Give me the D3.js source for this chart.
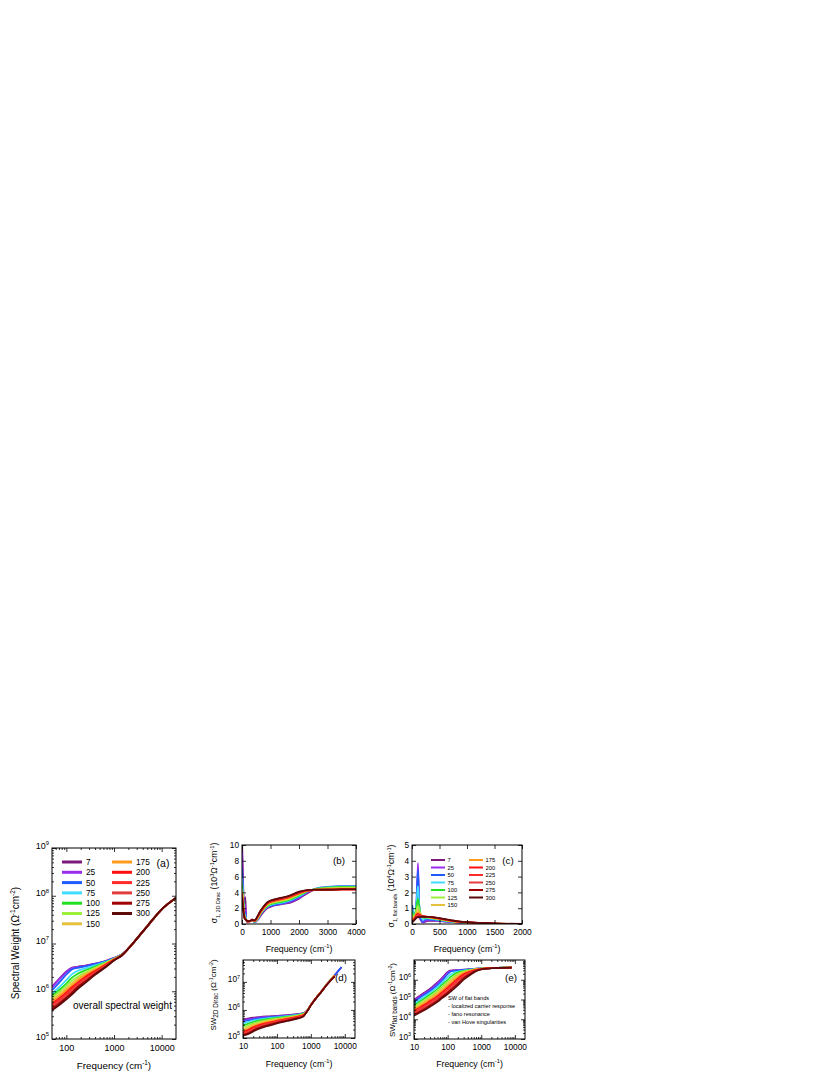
<!DOCTYPE html>
<html>
<head>
<meta charset="utf-8">
<script src="https://cdn.jsdelivr.net/npm/d3@7"></script>
<style>
  body { margin: 0; background: #fff; }
  svg { display: block; font-family: "Liberation Sans", Arial, sans-serif; }
</style>
</head>
<body>
<div id="chart"></div>
<script>
// temperatures (K) and their colours
const temps = [7, 25, 50, 75, 100, 125, 150, 175, 200, 225, 250, 275, 300];
const colors = ["#7a1a7a", "#9a2cf0", "#1f5cff", "#3fdcff", "#22e022", "#9cf03c", "#e6c23c",
                "#ff9a1a", "#ff1010", "#ff2a2a", "#e23c3c", "#a00000", "#5c0a0a"];

// (a) overall spectral weight
const freqA = [50, 70, 100, 130, 170, 250, 400, 700, 1000, 1500, 2000, 3000, 5000, 10000, 20000];
const swTotal = [
  [1.25e6, 1.8e6, 2.6e6, 3.1e6, 3.25e6, 3.45e6, 3.8e6, 4.4e6, 5.0e6, 6.0e6, 7.8e6, 1.25e7, 2.3e7, 5.2e7, 9.0e7],
  [1.2e6, 1.75e6, 2.55e6, 3.05e6, 3.2e6, 3.4e6, 3.75e6, 4.35e6, 4.95e6, 6.0e6, 7.8e6, 1.25e7, 2.3e7, 5.2e7, 9.0e7],
  [1.05e6, 1.5e6, 2.25e6, 2.85e6, 3.1e6, 3.3e6, 3.7e6, 4.3e6, 4.9e6, 6.0e6, 7.8e6, 1.25e7, 2.3e7, 5.2e7, 9.0e7],
  [9.0e5, 1.2e6, 1.7e6, 2.25e6, 2.65e6, 3.0e6, 3.5e6, 4.2e6, 4.85e6, 5.95e6, 7.8e6, 1.25e7, 2.3e7, 5.2e7, 9.0e7],
  [8.0e5, 1.05e6, 1.45e6, 1.9e6, 2.3e6, 2.75e6, 3.3e6, 4.1e6, 4.8e6, 5.95e6, 7.8e6, 1.25e7, 2.3e7, 5.2e7, 9.0e7],
  [7.4e5, 9.5e5, 1.3e6, 1.65e6, 2.0e6, 2.5e6, 3.1e6, 4.0e6, 4.75e6, 5.9e6, 7.8e6, 1.25e7, 2.3e7, 5.2e7, 9.0e7],
  [6.8e5, 8.6e5, 1.15e6, 1.45e6, 1.8e6, 2.3e6, 2.95e6, 3.9e6, 4.7e6, 5.9e6, 7.8e6, 1.25e7, 2.3e7, 5.2e7, 9.0e7],
  [6.2e5, 7.8e5, 1.05e6, 1.3e6, 1.65e6, 2.15e6, 2.8e6, 3.8e6, 4.65e6, 5.85e6, 7.8e6, 1.25e7, 2.3e7, 5.2e7, 9.0e7],
  [5.6e5, 7.1e5, 9.5e5, 1.2e6, 1.5e6, 2.0e6, 2.65e6, 3.7e6, 4.6e6, 5.85e6, 7.8e6, 1.25e7, 2.3e7, 5.2e7, 9.0e7],
  [5.1e5, 6.5e5, 8.7e5, 1.1e6, 1.4e6, 1.85e6, 2.5e6, 3.6e6, 4.55e6, 5.8e6, 7.8e6, 1.25e7, 2.3e7, 5.2e7, 9.0e7],
  [4.7e5, 6.0e5, 8.0e5, 1.0e6, 1.3e6, 1.7e6, 2.4e6, 3.5e6, 4.5e6, 5.8e6, 7.8e6, 1.25e7, 2.3e7, 5.2e7, 9.0e7],
  [4.3e5, 5.5e5, 7.3e5, 9.2e5, 1.2e6, 1.6e6, 2.3e6, 3.4e6, 4.45e6, 5.75e6, 7.8e6, 1.25e7, 2.3e7, 5.2e7, 9.0e7],
  [4.0e5, 5.1e5, 6.8e5, 8.5e5, 1.1e6, 1.5e6, 2.2e6, 3.3e6, 4.4e6, 5.75e6, 7.8e6, 1.25e7, 2.3e7, 5.2e7, 9.0e7]
];

// (b) sigma1 of 2D Dirac part, 10^3 ohm^-1 cm^-1
const freqB = [5, 30, 60, 90, 120, 150, 200, 300, 350, 450, 550, 650, 750, 900, 1100, 1400, 1700, 2000, 2300, 2600, 3000, 3500, 4000];
const sigDirac = [
  [10.5, 7.0, 3.2, 2.2, 3.4, 0.6, 0.2, 0.4, 0.6, 0.3, 0.5, 1.0, 1.5, 2.0, 2.3, 2.5, 2.7, 3.2, 3.9, 4.4, 4.6, 4.7, 4.7],
  [9.0, 5.5, 2.8, 2.0, 2.5, 0.5, 0.2, 0.4, 0.5, 0.2, 0.5, 1.1, 1.6, 2.1, 2.35, 2.55, 2.8, 3.3, 4.0, 4.45, 4.65, 4.75, 4.75],
  [7.0, 4.5, 2.5, 1.5, 1.5, 0.4, 0.3, 0.4, 0.5, 0.2, 0.6, 1.2, 1.7, 2.2, 2.4, 2.6, 2.9, 3.4, 4.1, 4.5, 4.7, 4.8, 4.8],
  [6.0, 4.0, 2.3, 1.2, 1.0, 0.5, 0.3, 0.4, 0.5, 0.3, 0.6, 1.25, 1.75, 2.25, 2.5, 2.7, 3.0, 3.5, 4.1, 4.5, 4.65, 4.75, 4.75],
  [5.0, 3.5, 2.7, 1.0, 0.8, 0.5, 0.3, 0.4, 0.5, 0.3, 0.7, 1.3, 1.8, 2.3, 2.6, 2.8, 3.1, 3.6, 4.15, 4.45, 4.6, 4.7, 4.7],
  [4.5, 3.2, 2.2, 1.0, 0.7, 0.5, 0.3, 0.4, 0.5, 0.3, 0.7, 1.35, 1.85, 2.4, 2.7, 2.9, 3.2, 3.7, 4.2, 4.4, 4.55, 4.6, 4.6],
  [4.2, 3.0, 2.0, 0.9, 0.7, 0.5, 0.3, 0.4, 0.5, 0.35, 0.8, 1.4, 1.9, 2.5, 2.8, 3.0, 3.3, 3.8, 4.2, 4.4, 4.5, 4.55, 4.55],
  [4.0, 2.8, 1.8, 0.9, 0.6, 0.5, 0.3, 0.4, 0.5, 0.35, 0.8, 1.45, 1.95, 2.55, 2.85, 3.1, 3.4, 3.85, 4.2, 4.35, 4.4, 4.45, 4.45],
  [3.8, 2.6, 1.7, 0.8, 0.6, 0.5, 0.3, 0.4, 0.5, 0.4, 0.9, 1.5, 2.0, 2.6, 2.9, 3.15, 3.45, 3.9, 4.2, 4.3, 4.35, 4.4, 4.4],
  [3.6, 2.5, 1.6, 0.8, 0.6, 0.5, 0.3, 0.4, 0.5, 0.4, 0.9, 1.55, 2.05, 2.65, 2.95, 3.2, 3.5, 3.95, 4.25, 4.3, 4.3, 4.35, 4.35],
  [3.5, 2.4, 1.5, 0.8, 0.6, 0.5, 0.35, 0.4, 0.5, 0.45, 1.0, 1.6, 2.1, 2.7, 3.0, 3.25, 3.55, 4.0, 4.25, 4.3, 4.3, 4.35, 4.35],
  [3.4, 2.3, 1.4, 0.7, 0.6, 0.5, 0.35, 0.4, 0.5, 0.45, 1.0, 1.65, 2.15, 2.75, 3.05, 3.3, 3.6, 4.05, 4.3, 4.35, 4.35, 4.4, 4.4],
  [3.3, 2.2, 1.3, 0.7, 0.6, 0.5, 0.35, 0.4, 0.5, 0.5, 1.05, 1.7, 2.2, 2.8, 3.1, 3.35, 3.65, 4.1, 4.3, 4.35, 4.35, 4.4, 4.4]
];

// (c) sigma1 of flat bands, 10^4 ohm^-1 cm^-1
const freqC = [5, 30, 60, 80, 100, 110, 125, 150, 200, 250, 300, 400, 500, 600, 700, 800, 1000, 1200, 1500, 2000];
const sigFlat = [
  [0.9, 0.6, 0.5, 1.0, 2.6, 3.3, 1.5, 0.3, 0.1, 0.15, 0.2, 0.2, 0.18, 0.15, 0.12, 0.1, 0.06, 0.04, 0.02, 0.0],
  [0.8, 0.5, 0.6, 1.3, 3.2, 3.85, 1.8, 0.35, 0.1, 0.2, 0.22, 0.22, 0.2, 0.16, 0.13, 0.1, 0.06, 0.04, 0.02, 0.0],
  [1.2, 0.7, 0.7, 1.4, 3.0, 3.4, 1.8, 0.4, 0.15, 0.3, 0.28, 0.25, 0.22, 0.18, 0.14, 0.11, 0.07, 0.05, 0.02, 0.0],
  [1.0, 0.6, 0.7, 1.3, 2.2, 2.4, 1.6, 0.6, 0.3, 0.35, 0.35, 0.3, 0.25, 0.2, 0.15, 0.12, 0.08, 0.05, 0.02, 0.0],
  [0.8, 0.5, 0.7, 1.1, 1.5, 1.6, 1.3, 0.7, 0.4, 0.4, 0.4, 0.33, 0.27, 0.22, 0.17, 0.13, 0.08, 0.05, 0.02, 0.0],
  [0.6, 0.5, 0.6, 0.9, 1.1, 1.15, 1.0, 0.7, 0.45, 0.42, 0.4, 0.35, 0.3, 0.24, 0.18, 0.14, 0.09, 0.05, 0.02, 0.0],
  [0.5, 0.4, 0.55, 0.75, 0.85, 0.88, 0.8, 0.65, 0.5, 0.45, 0.42, 0.37, 0.31, 0.25, 0.19, 0.15, 0.09, 0.06, 0.03, 0.0],
  [0.4, 0.35, 0.5, 0.65, 0.72, 0.73, 0.7, 0.6, 0.5, 0.46, 0.44, 0.38, 0.32, 0.26, 0.2, 0.15, 0.1, 0.06, 0.03, 0.0],
  [0.3, 0.3, 0.45, 0.58, 0.63, 0.64, 0.62, 0.56, 0.5, 0.47, 0.45, 0.39, 0.33, 0.27, 0.21, 0.16, 0.1, 0.06, 0.03, 0.0],
  [0.25, 0.28, 0.42, 0.52, 0.56, 0.57, 0.56, 0.53, 0.49, 0.47, 0.45, 0.4, 0.34, 0.28, 0.22, 0.17, 0.1, 0.07, 0.03, 0.0],
  [0.2, 0.25, 0.38, 0.47, 0.5, 0.51, 0.51, 0.5, 0.48, 0.47, 0.46, 0.41, 0.35, 0.29, 0.23, 0.17, 0.11, 0.07, 0.03, 0.0],
  [0.15, 0.22, 0.34, 0.42, 0.45, 0.46, 0.47, 0.47, 0.47, 0.46, 0.46, 0.42, 0.36, 0.3, 0.24, 0.18, 0.11, 0.07, 0.03, 0.0],
  [0.1, 0.2, 0.3, 0.38, 0.41, 0.42, 0.43, 0.44, 0.45, 0.45, 0.46, 0.43, 0.37, 0.31, 0.25, 0.19, 0.12, 0.08, 0.04, 0.01]
];

// (d) spectral weight of 2D Dirac part
const freqD = [10, 15, 20, 30, 50, 100, 200, 400, 600, 700, 800, 1000, 1500, 2000, 3000, 5000, 8000];
const swDirac = [
  [4.5e5, 5.0e5, 5.3e5, 5.6e5, 5.9e5, 6.2e5, 6.6e5, 7.1e5, 7.8e5, 8.5e5, 1.0e6, 1.5e6, 2.9e6, 4.4e6, 8.3e6, 1.7e7, 3.3e7],
  [4.2e5, 4.7e5, 5.0e5, 5.4e5, 5.7e5, 6.0e5, 6.4e5, 7.0e5, 7.7e5, 8.5e5, 1.0e6, 1.5e6, 2.9e6, 4.4e6, 8.3e6, 1.7e7, 3.3e7],
  [3.8e5, 4.3e5, 4.6e5, 5.0e5, 5.4e5, 5.8e5, 6.2e5, 6.9e5, 7.6e5, 8.4e5, 1.0e6, 1.5e6, 2.9e6, 4.4e6, 8.3e6, 1.7e7, 3.4e7],
  [3.3e5, 3.8e5, 4.2e5, 4.6e5, 5.0e5, 5.5e5, 6.0e5, 6.7e5, 7.5e5, 8.3e5, 1.0e6, 1.5e6, 2.9e6, 4.4e6, 8.3e6, 1.7e7, null],
  [2.8e5, 3.3e5, 3.7e5, 4.2e5, 4.7e5, 5.2e5, 5.8e5, 6.5e5, 7.4e5, 8.2e5, 1.0e6, 1.5e6, 2.9e6, 4.4e6, 8.3e6, 1.7e7, null],
  [2.4e5, 2.9e5, 3.3e5, 3.8e5, 4.3e5, 4.9e5, 5.5e5, 6.3e5, 7.2e5, 8.1e5, 1.0e6, 1.5e6, 2.9e6, 4.4e6, 8.3e6, 1.7e7, null],
  [2.0e5, 2.5e5, 2.9e5, 3.4e5, 4.0e5, 4.6e5, 5.2e5, 6.1e5, 7.0e5, 8.0e5, 9.9e5, 1.5e6, 2.9e6, 4.4e6, 8.3e6, 1.7e7, null],
  [1.8e5, 2.2e5, 2.6e5, 3.1e5, 3.7e5, 4.3e5, 5.0e5, 5.9e5, 6.8e5, 7.9e5, 9.8e5, 1.5e6, 2.9e6, 4.4e6, 8.2e6, 1.65e7, null],
  [1.6e5, 2.0e5, 2.4e5, 2.9e5, 3.4e5, 4.1e5, 4.8e5, 5.7e5, 6.6e5, 7.8e5, 9.7e5, 1.5e6, 2.9e6, 4.4e6, 8.2e6, 1.65e7, null],
  [1.5e5, 1.8e5, 2.2e5, 2.7e5, 3.2e5, 3.9e5, 4.6e5, 5.5e5, 6.4e5, 7.7e5, 9.6e5, 1.5e6, 2.85e6, 4.3e6, 8.1e6, 1.6e7, null],
  [1.4e5, 1.65e5, 2.0e5, 2.5e5, 3.0e5, 3.7e5, 4.4e5, 5.3e5, 6.2e5, 7.6e5, 9.5e5, 1.45e6, 2.85e6, 4.3e6, 8.1e6, 1.6e7, null],
  [1.3e5, 1.5e5, 1.85e5, 2.3e5, 2.8e5, 3.5e5, 4.2e5, 5.1e5, 6.0e5, 7.5e5, 9.4e5, 1.45e6, 2.8e6, 4.3e6, 8.0e6, 1.55e7, null],
  [1.2e5, 1.4e5, 1.7e5, 2.15e5, 2.6e5, 3.3e5, 4.0e5, 4.9e5, 5.8e5, 7.4e5, 9.3e5, 1.45e6, 2.8e6, 4.2e6, 8.0e6, 1.55e7, null]
];

// (e) spectral weight of flat bands
const freqE = [10, 20, 30, 50, 70, 100, 120, 150, 200, 300, 500, 700, 1000, 1500, 2000, 4000, 8000];
const swFlat = [
  [1.0e5, 2.2e5, 3.5e5, 7.5e5, 1.3e6, 2.5e6, 2.9e6, 3.0e6, 3.1e6, 3.25e6, 3.5e6, 3.65e6, 3.8e6, 3.9e6, 4.0e6, 4.1e6, 4.2e6],
  [9.0e4, 2.0e5, 3.2e5, 6.8e5, 1.2e6, 2.3e6, 2.8e6, 2.95e6, 3.05e6, 3.2e6, 3.45e6, 3.6e6, 3.8e6, 3.9e6, 4.0e6, 4.1e6, 4.2e6],
  [7.5e4, 1.7e5, 2.7e5, 5.5e5, 9.5e5, 1.9e6, 2.5e6, 2.8e6, 2.95e6, 3.15e6, 3.4e6, 3.6e6, 3.8e6, 3.9e6, 4.0e6, 4.1e6, 4.2e6],
  [6.0e4, 1.35e5, 2.2e5, 4.3e5, 7.5e5, 1.35e6, 1.8e6, 2.3e6, 2.6e6, 2.95e6, 3.3e6, 3.55e6, 3.75e6, 3.9e6, 4.0e6, 4.1e6, 4.2e6],
  [5.0e4, 1.1e5, 1.8e5, 3.4e5, 5.8e5, 1.0e6, 1.35e6, 1.8e6, 2.3e6, 2.8e6, 3.2e6, 3.5e6, 3.7e6, 3.85e6, 3.95e6, 4.1e6, 4.2e6],
  [4.2e4, 9.0e4, 1.45e5, 2.7e5, 4.5e5, 7.8e5, 1.05e6, 1.4e6, 2.0e6, 2.6e6, 3.1e6, 3.45e6, 3.7e6, 3.85e6, 3.95e6, 4.1e6, 4.2e6],
  [3.6e4, 7.5e4, 1.2e5, 2.2e5, 3.6e5, 6.2e5, 8.3e5, 1.15e6, 1.7e6, 2.4e6, 3.0e6, 3.4e6, 3.65e6, 3.8e6, 3.95e6, 4.1e6, 4.2e6],
  [3.1e4, 6.3e4, 1.0e5, 1.8e5, 2.9e5, 4.9e5, 6.6e5, 9.2e5, 1.4e6, 2.15e6, 2.85e6, 3.3e6, 3.6e6, 3.8e6, 3.9e6, 4.05e6, 4.15e6],
  [2.7e4, 5.3e4, 8.4e4, 1.5e5, 2.4e5, 4.0e5, 5.3e5, 7.4e5, 1.15e6, 1.9e6, 2.7e6, 3.2e6, 3.55e6, 3.75e6, 3.9e6, 4.05e6, 4.15e6],
  [2.3e4, 4.5e4, 7.0e4, 1.25e5, 2.0e5, 3.2e5, 4.3e5, 6.0e5, 9.3e5, 1.65e6, 2.5e6, 3.1e6, 3.5e6, 3.75e6, 3.85e6, 4.0e6, 4.15e6],
  [2.0e4, 3.8e4, 5.9e4, 1.05e5, 1.65e5, 2.6e5, 3.5e5, 4.9e5, 7.6e5, 1.4e6, 2.3e6, 3.0e6, 3.45e6, 3.7e6, 3.85e6, 4.0e6, 4.1e6],
  [1.7e4, 3.2e4, 5.0e4, 8.8e4, 1.4e5, 2.2e5, 2.9e5, 4.0e5, 6.2e5, 1.2e6, 2.1e6, 2.85e6, 3.4e6, 3.7e6, 3.85e6, 4.0e6, 4.1e6],
  [1.5e4, 2.8e4, 4.3e4, 7.5e4, 1.2e5, 1.85e5, 2.4e5, 3.3e5, 5.1e5, 1.0e6, 1.9e6, 2.7e6, 3.3e6, 3.65e6, 3.8e6, 4.0e6, 4.1e6]
];

const flatNotes = ["SW of flat bands", "- localized carrier response", "- fano resonance", "- van Hove singularities"];

const width = 830, height = 1075;

const svg = d3.select("#chart")
  .append("svg")
  .attr("width", width)
  .attr("height", height);

// text with sub/superscripts: parts = [[string, "n"|"sub"|"sup", scale]]
function richText(t, parts, fs) {
  let shift = 0;
  parts.forEach(([s, mode, sc]) => {
    const size = mode === "n" ? fs : fs * (sc || 0.65);
    const target = mode === "sup" ? -0.4 * fs : mode === "sub" ? 0.3 * fs : 0;
    t.append("tspan")
      .attr("dy", target - shift)
      .attr("font-size", size)
      .text(s);
    shift = target;
  });
}

function logMinor(domain) {
  const out = [];
  for (let k = Math.floor(Math.log10(domain[0])); k <= Math.ceil(Math.log10(domain[1])); k++) {
    for (let m = 2; m <= 9; m++) {
      const v = m * Math.pow(10, k);
      if (v > domain[0] && v < domain[1]) out.push(v);
    }
  }
  return out;
}

function panel(p) {
  const g = svg.append("g");
  const [x0, x1] = p.x.range(), [y1, y0] = p.y.range();

  g.append("clipPath").attr("id", "clip-" + p.name)
    .append("rect")
    .attr("x", x0).attr("y", y0)
    .attr("width", x1 - x0).attr("height", y1 - y0);

  const line = d3.line()
    .defined(d => d[1] != null)
    .x(d => p.x(d[0]))
    .y(d => p.y(d[1]))
    .curve(d3.curveMonotoneX);

  g.append("g")
    .attr("clip-path", `url(#clip-${p.name})`)
    .selectAll("path")
    .data(p.series)
    .join("path")
    .attr("d", s => line(p.freq.map((f, i) => [f, s[i]])))
    .attr("fill", "none")
    .attr("stroke", (s, i) => colors[i])
    .attr("stroke-width", p.lw);

  // ticks, all pointing inward, mirrored on top and right
  const xAx = g.append("g").attr("transform", `translate(0,${y1})`)
    .call(d3.axisBottom(p.x).tickValues(p.xTicks).tickSizeInner(-4).tickSizeOuter(0)
      .tickPadding(p.xPad).tickFormat(p.xFmt));
  g.append("g").attr("transform", `translate(0,${y0})`)
    .call(d3.axisTop(p.x).tickValues(p.xTicks).tickSizeInner(-4).tickSizeOuter(0).tickFormat(""));
  const yAx = g.append("g").attr("transform", `translate(${x0},0)`)
    .call(d3.axisLeft(p.y).tickValues(p.yTicks).tickSizeInner(-4).tickSizeOuter(0)
      .tickPadding(3).tickFormat(p.yLog ? "" : d3.format("d")));
  g.append("g").attr("transform", `translate(${x1},0)`)
    .call(d3.axisRight(p.y).tickValues(p.yTicks).tickSizeInner(-4).tickSizeOuter(0).tickFormat(""));

  if (p.xLog) {
    const mx = logMinor(p.x.domain());
    g.append("g").attr("transform", `translate(0,${y1})`)
      .call(d3.axisBottom(p.x).tickValues(mx).tickSizeInner(-2).tickSizeOuter(0).tickFormat(""));
    g.append("g").attr("transform", `translate(0,${y0})`)
      .call(d3.axisTop(p.x).tickValues(mx).tickSizeInner(-2).tickSizeOuter(0).tickFormat(""));
  }
  if (p.yLog) {
    const my = logMinor(p.y.domain());
    g.append("g").attr("transform", `translate(${x0},0)`)
      .call(d3.axisLeft(p.y).tickValues(my).tickSizeInner(-2).tickSizeOuter(0).tickFormat(""));
    g.append("g").attr("transform", `translate(${x1},0)`)
      .call(d3.axisRight(p.y).tickValues(my).tickSizeInner(-2).tickSizeOuter(0).tickFormat(""));
    yAx.selectAll(".tick text").each(function(d) {
      const t = d3.select(this);
      richText(t, [["10", "n"], [String(Math.round(Math.log10(d))), "sup"]], p.tickFs);
    });
  }

  g.selectAll(".domain").remove();
  g.selectAll(".tick line").attr("stroke", "#000").attr("stroke-width", 0.8);
  g.selectAll(".tick text").attr("fill", "#000").attr("font-size", p.tickFs).attr("font-family", null);

  g.append("rect")
    .attr("x", x0).attr("y", y0)
    .attr("width", x1 - x0).attr("height", y1 - y0)
    .attr("fill", "none").attr("stroke", "#000").attr("stroke-width", 1);

  // axis titles
  const xt = g.append("text")
    .attr("x", (x0 + x1) / 2).attr("y", p.xTitleY)
    .attr("text-anchor", "middle");
  richText(xt, [["Frequency (cm", "n"], ["-1", "sup"], [")", "n"]], p.titleFs);

  const yt = g.append("text")
    .attr("transform", `translate(${p.yTitleX},${p.yTitleCy}) rotate(-90)`)
    .attr("text-anchor", "middle");
  richText(yt, p.yTitle, p.yTitleFs);

  g.append("text")
    .attr("x", p.tag[0]).attr("y", p.tag[1])
    .attr("text-anchor", "middle")
    .attr("font-size", p.tagFs)
    .text(p.tag[2]);

  return g;
}

// (a)
const xA = d3.scaleLog().domain([50, 20000]).range([52, 176]);
const yA = d3.scaleLog().domain([1e5, 1e9]).range([1039, 848]);
const gA = panel({
  name: "a", x: xA, y: yA, freq: freqA, series: swTotal, lw: 1.8,
  xLog: true, yLog: true, xTicks: [100, 1000, 10000], yTicks: [1e5, 1e6, 1e7, 1e8, 1e9],
  xFmt: d3.format("d"), xPad: 6, tickFs: 9,
  titleFs: 9.8, xTitleY: 1069,
  yTitle: [["Spectral Weight (Ω", "n"], ["-1", "sup"], ["cm", "n"], ["-2", "sup"], [")", "n"]],
  yTitleFs: 10, yTitleX: 19, yTitleCy: 943,
  tag: [163, 867, "(a)"], tagFs: 10.5
});

gA.append("text")
  .attr("x", 73).attr("y", 1009)
  .attr("font-size", 10)
  .text("overall spectral weight");

const legA = gA.append("g");
temps.forEach((t, i) => {
  const col = i < 7 ? 0 : 1, row = i < 7 ? i : i - 7;
  const lx = col === 0 ? 62 : 112, ly = 862 + row * 10.3;
  legA.append("line")
    .attr("x1", lx).attr("x2", lx + 20).attr("y1", ly).attr("y2", ly)
    .attr("stroke", colors[i]).attr("stroke-width", 3);
  legA.append("text")
    .attr("x", lx + 24).attr("y", ly).attr("dy", "0.35em")
    .attr("font-size", 8.3)
    .text(t);
});

// (b)
const xB = d3.scaleLinear().domain([0, 4000]).range([242, 356]);
const yB = d3.scaleLinear().domain([0, 10]).range([924, 845]);
panel({
  name: "b", x: xB, y: yB, freq: freqB, series: sigDirac, lw: 1.6,
  xTicks: [0, 1000, 2000, 3000, 4000], yTicks: [0, 2, 4, 6, 8, 10],
  xFmt: d3.format("d"), xPad: 5, tickFs: 8.3,
  titleFs: 8.8, xTitleY: 952,
  yTitle: [["σ", "n"], ["1, 2D Dirac", "sub", 0.6], [" (10", "n"], ["3", "sup"], ["Ω", "n"], ["-1", "sup"], ["cm", "n"], ["-1", "sup"], [")", "n"]],
  yTitleFs: 8.7, yTitleX: 217, yTitleCy: 883,
  tag: [339, 864, "(b)"], tagFs: 9.8
});

// (c)
const xC = d3.scaleLinear().domain([0, 2000]).range([412, 522]);
const yC = d3.scaleLinear().domain([0, 5]).range([924, 845]);
const gC = panel({
  name: "c", x: xC, y: yC, freq: freqC, series: sigFlat, lw: 1.6,
  xTicks: [0, 500, 1000, 1500, 2000], yTicks: [0, 1, 2, 3, 4, 5],
  xFmt: d3.format("d"), xPad: 5, tickFs: 8.3,
  titleFs: 8.8, xTitleY: 952,
  yTitle: [["σ", "n"], ["1, flat bands", "sub", 0.6], [" (10", "n"], ["4", "sup"], ["Ω", "n"], ["-1", "sup"], ["cm", "n"], ["-1", "sup"], [")", "n"]],
  yTitleFs: 8.7, yTitleX: 394, yTitleCy: 886,
  tag: [508, 864, "(c)"], tagFs: 9.8
});

const legC = gC.append("g");
temps.forEach((t, i) => {
  const col = i < 7 ? 0 : 1, row = i < 7 ? i : i - 7;
  const lx = col === 0 ? 431 : 469, ly = 860 + row * 7.5;
  legC.append("line")
    .attr("x1", lx).attr("x2", lx + 14).attr("y1", ly).attr("y2", ly)
    .attr("stroke", colors[i]).attr("stroke-width", 2);
  legC.append("text")
    .attr("x", lx + 16.5).attr("y", ly).attr("dy", "0.35em")
    .attr("font-size", 5.8)
    .text(t);
});

// (d)
const xD = d3.scaleLog().domain([10, 20000]).range([243, 355]);
const yD = d3.scaleLog().domain([1e5, 6e7]).range([1038, 960]);
panel({
  name: "d", x: xD, y: yD, freq: freqD, series: swDirac, lw: 1.6,
  xLog: true, yLog: true, xTicks: [10, 100, 1000, 10000], yTicks: [1e5, 1e6, 1e7],
  xFmt: d3.format("d"), xPad: 5, tickFs: 8.3,
  titleFs: 8.8, xTitleY: 1067,
  yTitle: [["SW", "n"], ["2D Dirac", "sub", 0.8], [" (Ω", "n"], ["-1", "sup"], ["cm", "n"], ["-2", "sup"], [")", "n"]],
  yTitleFs: 8, yTitleX: 216, yTitleCy: 995,
  tag: [341, 981, "(d)"], tagFs: 9.8
});

// (e)
const xE = d3.scaleLog().domain([10, 20000]).range([414, 525]);
const yE = d3.scaleLog().domain([1e3, 1e7]).range([1039, 960]);
const gE = panel({
  name: "e", x: xE, y: yE, freq: freqE, series: swFlat, lw: 1.6,
  xLog: true, yLog: true, xTicks: [10, 100, 1000, 10000], yTicks: [1e3, 1e4, 1e5, 1e6],
  xFmt: d3.format("d"), xPad: 5, tickFs: 8.3,
  titleFs: 8.8, xTitleY: 1067,
  yTitle: [["SW", "n"], ["flat bands", "sub", 0.8], [" (Ω", "n"], ["-1", "sup"], ["cm", "n"], ["-2", "sup"], [")", "n"]],
  yTitleFs: 8, yTitleX: 395, yTitleCy: 1000,
  tag: [511, 981, "(e)"], tagFs: 9.8
});

gE.append("g")
  .selectAll("text")
  .data(flatNotes)
  .join("text")
  .attr("x", 448)
  .attr("y", (d, i) => 1000 + i * 8)
  .attr("font-size", 5.6)
  .text(d => d);
</script>
</body>
</html>
